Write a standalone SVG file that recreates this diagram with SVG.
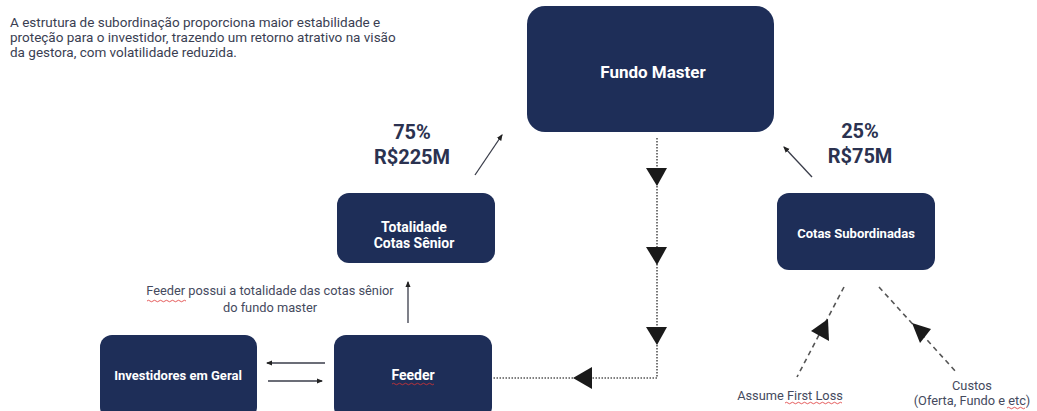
<svg xmlns="http://www.w3.org/2000/svg" width="1037" height="411" viewBox="0 0 1037 411">
<style>
.box{fill:#1e2e58}
.bt{fill:#ffffff;font-family:Roboto,"Liberation Sans",sans-serif;font-weight:bold;text-anchor:middle}
.lbl{fill:#454a5e;font-family:Roboto,"Liberation Sans",sans-serif;font-size:12.8px}
.intro{fill:#3a3e52;font-family:Roboto,"Liberation Sans",sans-serif;font-size:13.5px}
.big{fill:#2b3250;font-family:Roboto,"Liberation Sans",sans-serif;font-weight:bold;font-size:20px;text-anchor:middle}
.thin{stroke:#3a3d4a;stroke-width:1.3;fill:none}
.dot{stroke:#555;stroke-width:1.6;stroke-dasharray:1.5 1.5;fill:none}
.dash{stroke:#555;stroke-width:1.6;stroke-dasharray:5 4;fill:none}
.tri{fill:#1a1a1a}
.sq{stroke:#d33;stroke-width:0.8;fill:none}
</style>
<defs>
<marker id="ah" viewBox="0 0 6 6" refX="5" refY="3" markerWidth="5" markerHeight="5" orient="auto">
<path d="M0,0.5 L6,3 L0,5.5 z" fill="#222"/>
</marker>
</defs>
<rect width="1037" height="411" fill="#ffffff"/>
<g id="intro">
<text class="intro" x="10" y="27">A estrutura de subordinação proporciona maior estabilidade e</text>
<text class="intro" x="10" y="42">proteção para o investidor, trazendo um retorno atrativo na visão</text>
<text class="intro" x="10" y="57">da gestora, com volatilidade reduzida.</text>
</g>
<g id="fundo-master">
<rect class="box" x="527" y="6" width="247" height="126" rx="18"/>
<text class="bt" x="653" y="78" font-size="17">Fundo Master</text>
</g>
<g id="cotas-senior">
<rect class="box" x="337" y="193" width="158" height="70" rx="12"/>
<text class="bt" x="414" y="232" font-size="14">Totalidade</text>
<text class="bt" x="414" y="248" font-size="14">Cotas Sênior</text>
</g>
<g id="cotas-subordinadas">
<rect class="box" x="777" y="193" width="158" height="77" rx="12"/>
<text class="bt" x="856" y="238" font-size="13">Cotas Subordinadas</text>
</g>
<g id="investidores">
<rect class="box" x="100" y="335" width="157" height="84" rx="12"/>
<text class="bt" x="178" y="380" font-size="13">Investidores em Geral</text>
</g>
<g id="feeder">
<rect class="box" x="334" y="335" width="158" height="84" rx="12"/>
<text class="bt" x="413" y="380" font-size="14">Feeder</text>
<path class="sq" d="M392,384 q1.5,-1.5 3,0 t3,0 t3,0 t3,0 t3,0 t3,0 t3,0 t3,0 t3,0 t3,0 t3,0 t3,0 t3,0 t3,0"/>
</g>
<g id="labels">
<text class="big" x="412" y="139">75%</text>
<text class="big" x="412" y="164">R$225M</text>
<text class="big" x="860" y="138">25%</text>
<text class="big" x="860" y="163">R$75M</text>
<text class="lbl" x="270" y="295" text-anchor="middle">Feeder possui a totalidade das cotas sênior</text>
<path class="sq" d="M147,301 q1.5,-1.5 3,0 t3,0 t3,0 t3,0 t3,0 t3,0 t3,0 t3,0 t3,0 t3,0 t3,0 t3,0 t3,0"/>
<text class="lbl" x="270" y="312" text-anchor="middle">do fundo master</text>
<text class="lbl" x="790" y="400" text-anchor="middle">Assume First Loss</text>
<path class="sq" d="M785,403 q1.5,-1.5 3,0 t3,0 t3,0 t3,0 t3,0 t3,0 t3,0 t3,0 t3,0 t3,0 t3,0 t3,0 t3,0 t3,0 t3,0 t3,0 t3,0 t3,0 t3,0"/>
<text class="lbl" x="972" y="390" text-anchor="middle">Custos</text>
<text class="lbl" x="972" y="405" text-anchor="middle">(Oferta, Fundo e etc)</text>
<path class="sq" d="M1007,408 q1.5,-1.5 3,0 t3,0 t3,0 t3,0 t3,0 t3,0"/>
</g>
<g id="connectors">
<line class="thin" x1="475" y1="175" x2="502" y2="135" marker-end="url(#ah)"/>
<line class="thin" x1="812" y1="177" x2="784" y2="147" marker-end="url(#ah)"/>
<line class="thin" x1="408" y1="323" x2="408" y2="282" marker-end="url(#ah)"/>
<line class="thin" x1="325" y1="363" x2="267" y2="363" marker-end="url(#ah)"/>
<line class="thin" x1="268" y1="381" x2="322" y2="381" marker-end="url(#ah)"/>
<polyline class="dot" points="657,138 657,378 492,378"/>
<polygon class="tri" points="646,168 667,168 657,186"/>
<polygon class="tri" points="646,247 667,247 657,265"/>
<polygon class="tri" points="646,327 667,327 657,345"/>
<polygon class="tri" points="573,378 592,367 592,389"/>
<line class="dash" x1="844" y1="287" x2="797" y2="377"/>
<polygon class="tri" points="828,319 811,331 829,341"/>
<line class="dash" x1="879" y1="287" x2="957" y2="373"/>
<polygon class="tri" points="912,323 931,329 920,343"/>
</g>
</svg>
